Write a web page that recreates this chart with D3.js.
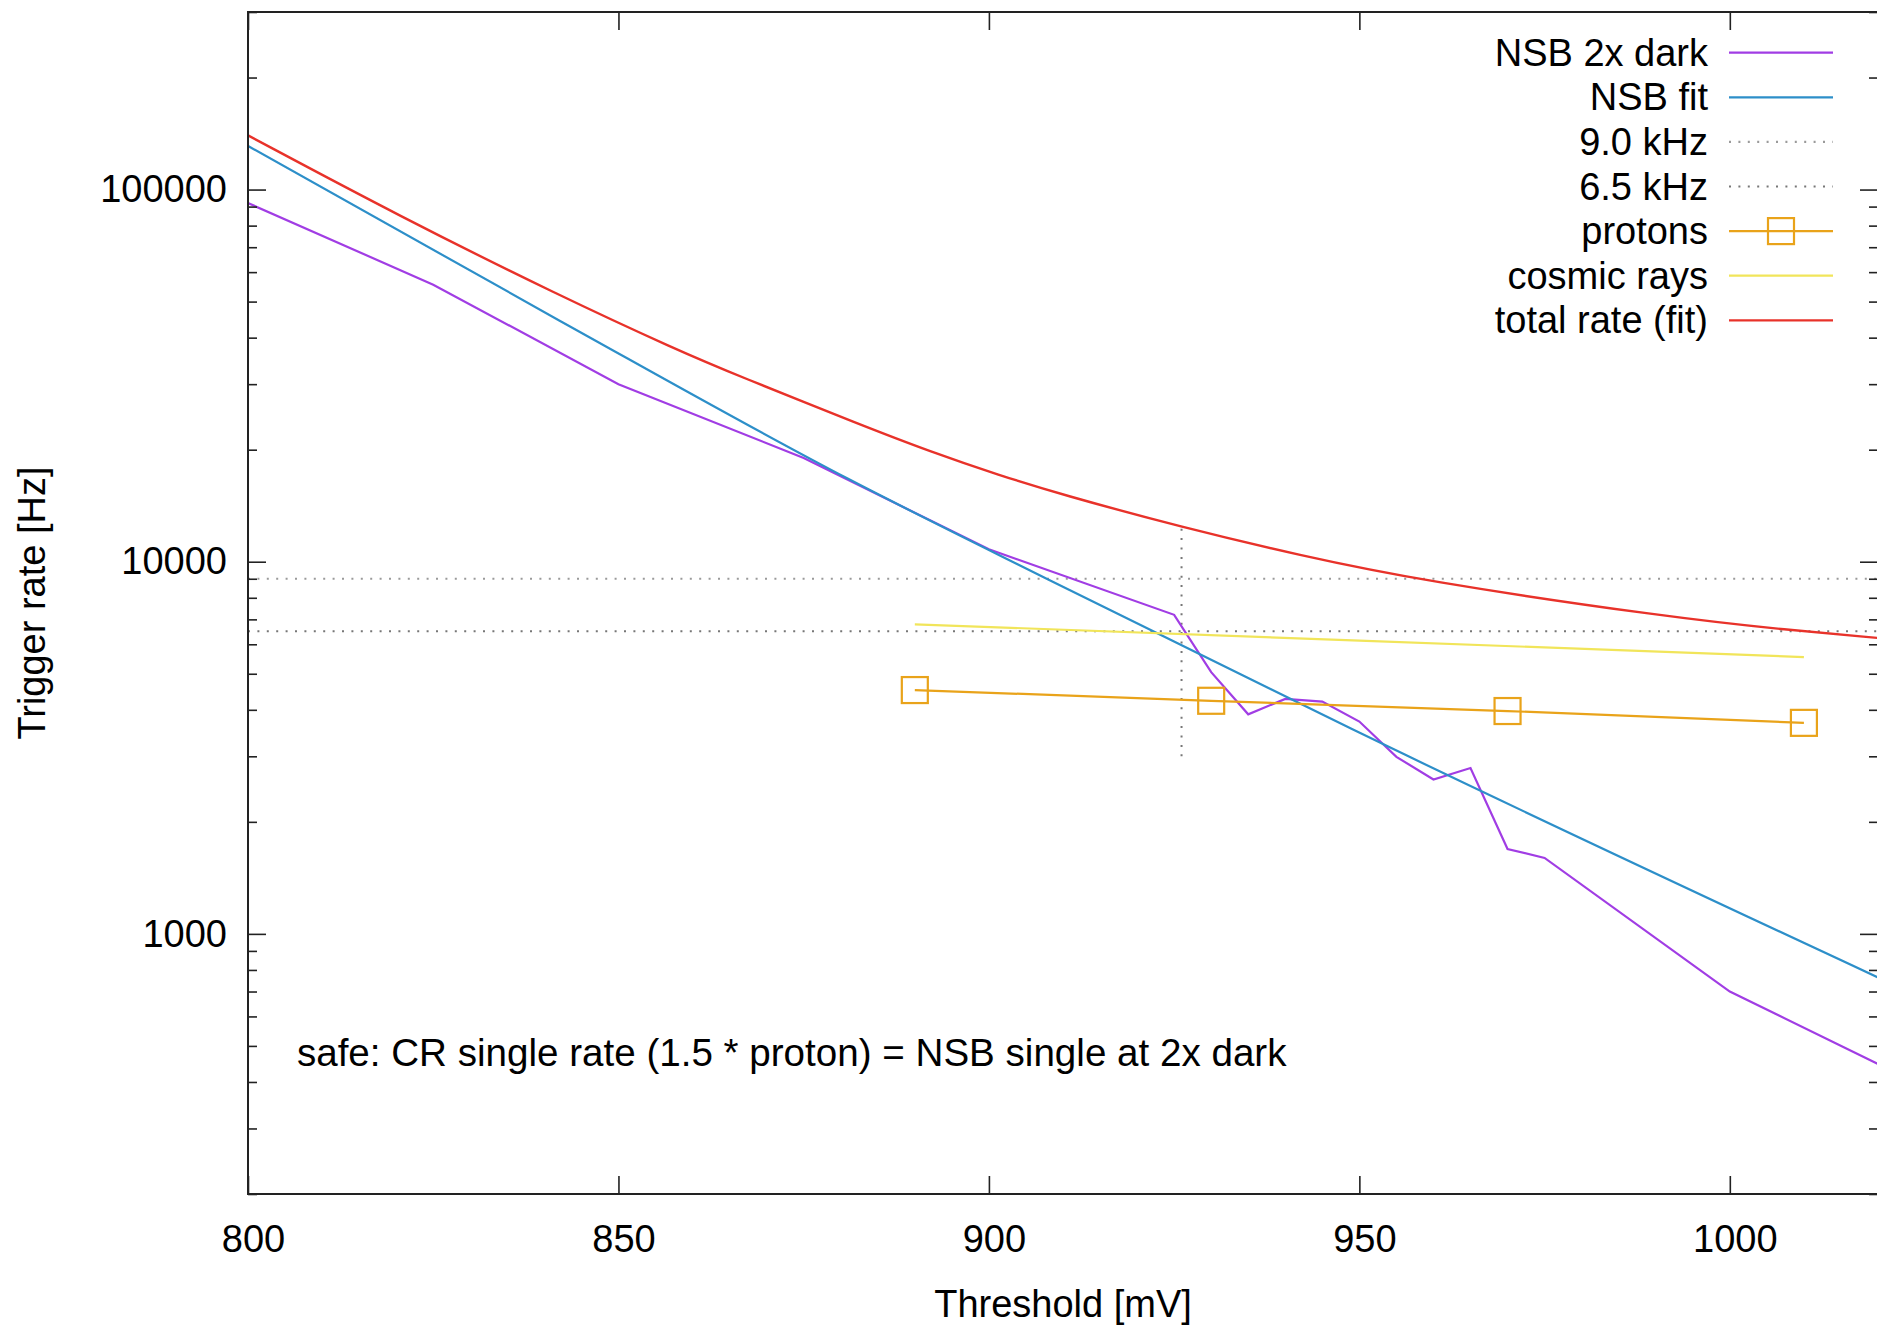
<!DOCTYPE html>
<html>
<head>
<meta charset="utf-8">
<script src="https://cdn.jsdelivr.net/npm/d3@7"></script>
<style>
  body { margin: 0; background: white; }
  text { font-family: "Liberation Sans", Arial, Helvetica, sans-serif; fill: #000; }
</style>
</head>
<body>
<div id="chart"></div>
<script>
// Data: [threshold mV, rate Hz]
const nsbDark = [[800, 92000], [825, 55500], [850, 30000], [875, 19000], [900, 10800],
  [925, 7200], [930, 5050], [935, 3890], [940, 4280], [945, 4210], [950, 3720],
  [955, 2990], [960, 2600], [965, 2790], [970, 1690], [975, 1600], [1000, 700], [1020, 447]];
const nsbFit = [[800, 131000], [842, 44500], [881, 16700], [908, 8960], [949, 3550], [1020, 764]];
const protons = [[890, 4520], [930, 4230], [970, 3970], [1010, 3690]];
const cosmicRays = [[890, 6790], [950, 6140], [1010, 5545]];
const totalRate = [[800, 139800], [820.5, 84700], [842, 51900], [858, 37000], [866, 31700],
  [883, 23200], [892, 19800], [901.5, 17050], [909.6, 15200], [926, 12380], [942, 10400],
  [958, 8910], [992, 7080], [1008, 6550], [1020, 6240]];
const rateLevels = [9000, 6500];
const safeLine = [[926, 3000], [926, 12300]];

const legendNames = ["NSB 2x dark", "NSB fit", "9.0 kHz", "6.5 kHz", "protons", "cosmic rays", "total rate (fit)"];
const xTicks = [800, 850, 900, 950, 1000];
const yTicks = [1000, 10000, 100000];
const yMinor = [200, 300, 400, 500, 600, 700, 800, 900, 2000, 3000, 4000, 5000, 6000, 7000, 8000, 9000,
  20000, 30000, 40000, 50000, 60000, 70000, 80000, 90000, 200000, 300000];
const note = "safe: CR single rate (1.5 * proton) = NSB single at 2x dark";

// Dimensions
const width = 1877, height = 1327;
const margin = { top: 12, bottom: 133, left: 248, right: -1 };

const svg = d3.select('#chart')
  .append('svg')
  .attr('width', width)
  .attr('height', height)
  .style('background', 'white');

const xScale = d3.scaleLinear()
  .domain([800, 1020])
  .range([margin.left, width - margin.right]);

const yScale = d3.scaleLog()
  .domain([200, 300000])
  .range([height - margin.bottom, margin.top]);

const plotBottom = height - margin.bottom;
const plotRight = width - margin.right;

// Colours (gnuplot-ish)
const colors = {
  dark: '#a13de4', fit: '#2d8fc9', prot: '#e9a31a', cr: '#f1e55a', total: '#e8322a'
};

// Clip path for the data
svg.append('clipPath').attr('id', 'clip')
  .append('rect')
  .attr('x', margin.left).attr('y', margin.top)
  .attr('width', plotRight - margin.left).attr('height', plotBottom - margin.top);

const plot = svg.append('g').attr('clip-path', 'url(#clip)');

// Axes: major and minor ticks, inward, mirrored
const fontSize = 38;

svg.append('g')
  .attr('transform', `translate(0,${plotBottom})`)
  .call(d3.axisBottom(xScale).tickValues(xTicks).tickFormat(d3.format('d'))
    .tickSizeInner(-18).tickSizeOuter(0).tickPadding(31))
  .call(g => g.select('.domain').remove())
  .call(g => g.selectAll('text').style('font-size', fontSize + 'px').attr('fill', '#000').attr('dx', 5));

svg.append('g')
  .attr('transform', `translate(0,${margin.top})`)
  .call(d3.axisTop(xScale).tickValues(xTicks).tickFormat('').tickSizeInner(-18).tickSizeOuter(0))
  .call(g => g.select('.domain').remove());

svg.append('g')
  .attr('transform', `translate(${margin.left},0)`)
  .call(d3.axisLeft(yScale).tickValues(yTicks).tickFormat(d3.format('d'))
    .tickSizeInner(-18).tickSizeOuter(0).tickPadding(21))
  .call(g => g.select('.domain').remove())
  .call(g => g.selectAll('text').style('font-size', fontSize + 'px').attr('fill', '#000'));

svg.append('g')
  .attr('transform', `translate(${margin.left},0)`)
  .call(d3.axisLeft(yScale).tickValues(yMinor).tickFormat('').tickSizeInner(-9).tickSizeOuter(0))
  .call(g => g.select('.domain').remove());

svg.append('g')
  .attr('transform', `translate(${plotRight},0)`)
  .call(d3.axisRight(yScale).tickValues(yTicks).tickFormat('').tickSizeInner(-18).tickSizeOuter(0))
  .call(g => g.select('.domain').remove());

svg.append('g')
  .attr('transform', `translate(${plotRight},0)`)
  .call(d3.axisRight(yScale).tickValues(yMinor).tickFormat('').tickSizeInner(-9).tickSizeOuter(0))
  .call(g => g.select('.domain').remove());

svg.selectAll('.tick line').attr('stroke', '#222').attr('stroke-width', 1.6);

// Frame
svg.append('rect')
  .attr('x', margin.left).attr('y', margin.top)
  .attr('width', plotRight - margin.left).attr('height', plotBottom - margin.top)
  .attr('fill', 'none').attr('stroke', '#222').attr('stroke-width', 2);

// Axis labels
svg.append('text')
  .text('Threshold [mV]')
  .attr('x', (margin.left + plotRight) / 2)
  .attr('y', 1317)
  .attr('text-anchor', 'middle')
  .style('font-size', fontSize + 'px');

svg.append('text')
  .text('Trigger rate [Hz]')
  .attr('transform', `translate(45,${(margin.top + plotBottom) / 2}) rotate(-90)`)
  .attr('text-anchor', 'middle')
  .style('font-size', fontSize + 'px');

// Lines
const line = d3.line().x(d => xScale(d[0])).y(d => yScale(d[1]));
const smooth = d3.line().x(d => xScale(d[0])).y(d => yScale(d[1])).curve(d3.curveMonotoneX);

// horizontal levels (dotted)
const levelColors = ['#9a9a9a', '#777'];
rateLevels.forEach((lvl, i) => {
  plot.append('line')
    .attr('x1', margin.left).attr('x2', plotRight)
    .attr('y1', yScale(lvl)).attr('y2', yScale(lvl))
    .attr('stroke', levelColors[i]).attr('stroke-width', 2)
    .attr('stroke-dasharray', '2,7.4');
});

// vertical safe marker
plot.append('path')
  .attr('d', line(safeLine))
  .attr('fill', 'none').attr('stroke', '#777').attr('stroke-width', 2)
  .attr('stroke-dasharray', '2,7.4');

plot.append('path').attr('d', line(nsbDark))
  .attr('fill', 'none').attr('stroke', colors.dark).attr('stroke-width', 2.2);

plot.append('path').attr('d', smooth(nsbFit))
  .attr('fill', 'none').attr('stroke', colors.fit).attr('stroke-width', 2.2);

plot.append('path').attr('d', line(protons))
  .attr('fill', 'none').attr('stroke', colors.prot).attr('stroke-width', 2.2);

plot.selectAll('.pmark')
  .data(protons)
  .enter()
  .append('rect')
  .attr('x', d => xScale(d[0]) - 13)
  .attr('y', d => yScale(d[1]) - 13)
  .attr('width', 26).attr('height', 26)
  .attr('fill', 'none').attr('stroke', colors.prot).attr('stroke-width', 2.2);

plot.append('path').attr('d', smooth(cosmicRays))
  .attr('fill', 'none').attr('stroke', colors.cr).attr('stroke-width', 2.2);

plot.append('path').attr('d', d3.line().x(d => xScale(d[0])).y(d => yScale(d[1])).curve(d3.curveBasis)(totalRate))
  .attr('fill', 'none').attr('stroke', colors.total).attr('stroke-width', 2.4);

// Note
svg.append('text')
  .text(note)
  .attr('x', xScale(806.6))
  .attr('y', yScale(480))
  .attr('dy', '0.35em')
  .style('font-size', '38.6px');

// Legend
const legendStyle = [
  { color: colors.dark }, { color: colors.fit },
  { color: levelColors[0], dash: '2,7.4' }, { color: levelColors[1], dash: '2,7.4' },
  { color: colors.prot, marker: true }, { color: colors.cr }, { color: colors.total }
];
legendNames.forEach((name, i) => {
  const y = 52.7 + i * 44.6;
  svg.append('text')
    .text(name)
    .attr('x', 1708)
    .attr('y', y + 13)
    .attr('text-anchor', 'end')
    .style('font-size', fontSize + 'px');
  svg.append('line')
    .attr('x1', 1729).attr('x2', 1833)
    .attr('y1', y).attr('y2', y)
    .attr('stroke', legendStyle[i].color).attr('stroke-width', 2.2)
    .attr('stroke-dasharray', legendStyle[i].dash || null);
  if (legendStyle[i].marker) {
    svg.append('rect')
      .attr('x', 1781 - 13).attr('y', y - 13)
      .attr('width', 26).attr('height', 26)
      .attr('fill', 'none').attr('stroke', legendStyle[i].color).attr('stroke-width', 2.2);
  }
});
</script>
</body>
</html>
